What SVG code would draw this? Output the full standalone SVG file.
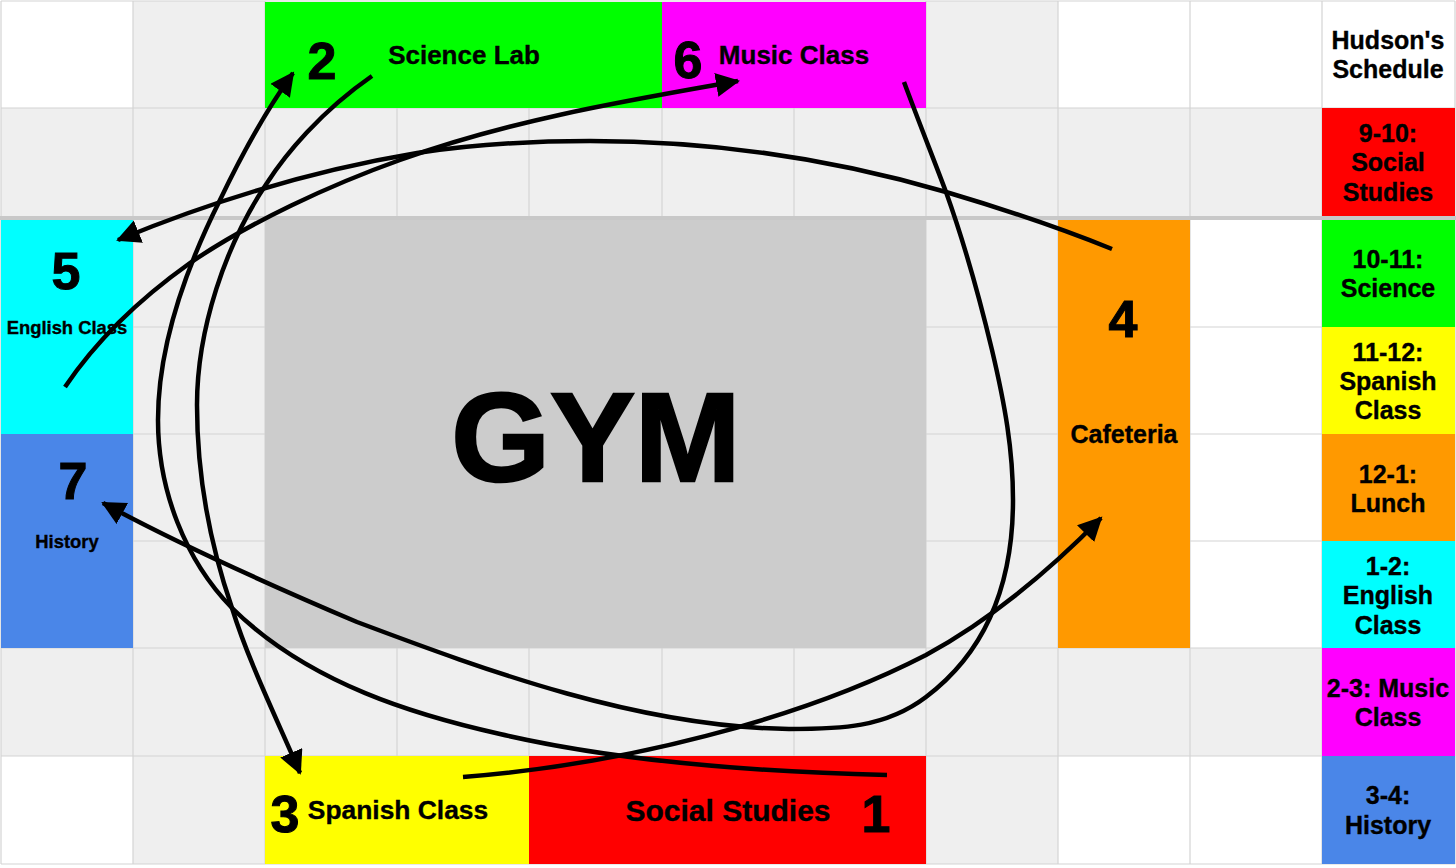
<svg xmlns="http://www.w3.org/2000/svg" width="1456" height="868" viewBox="0 0 1456 868">
<defs>
<marker id="arrow" markerUnits="userSpaceOnUse" markerWidth="30" markerHeight="30" refX="22" refY="12" orient="auto"><path d="M0 0L24 12L0 24Z" fill="#000"/></marker>
</defs>
<style>
text{font-family:"Liberation Sans",Arial,sans-serif;font-weight:700;fill:#000;text-anchor:middle;stroke:#000;stroke-width:.35}
.g{fill:#efefef}.l{stroke:#d4d4d4;stroke-width:1.2;fill:none}
.n{font-size:52px;stroke-width:1}.m{font-size:25px}.s{font-size:18.4px}
.c{fill:none;stroke:#000;stroke-width:4.5}
</style>
<rect width="1456" height="868" fill="#fff"/>
<g id="grid">
<rect class="g" x="133" y="1" width="132" height="863"/>
<rect class="g" x="926" y="1" width="132" height="863"/>
<rect class="g" x="1" y="108" width="1321" height="108"/>
<rect class="g" x="1" y="648" width="1321" height="108"/>
<path class="l" d="M1 1V864M133 1V864M265 1V864M397 108V216M529 108V216M662 108V216M794 108V216M397 648V756M529 648V756M662 648V756M794 648V756M926 1V864M1058 1V864M1190 1V864M1322 1V864M1455 1V864M1 1H1455M1 108H1455M1 327H1322M1 434H1322M1 541H1322M1 648H1322M1 756H1322M1 864H1455"/>
<rect x="0" y="216" width="1456" height="4" fill="#c8c8c8"/>
</g>
<g id="gym"><rect x="265" y="220" width="661" height="428" fill="#cccccc"/><text x="596" y="481" font-size="127" style="stroke-width:2.5">GYM</text></g>
<g id="science-lab"><rect x="265" y="2" width="397" height="106" fill="#00ff00"/><text class="n" x="322" y="79">2</text><text class="m" x="464" y="64" style="font-size:26px">Science Lab</text></g>
<g id="music-class"><rect x="662" y="2" width="264" height="106" fill="#ff00ff"/><text class="n" x="688" y="78">6</text><text class="m" x="794" y="64" style="font-size:26px">Music Class</text></g>
<g id="english-class"><rect x="1" y="220" width="132" height="214" fill="#00ffff"/><text class="n" x="66" y="289">5</text><text class="s" x="67" y="334">English Class</text></g>
<g id="history"><rect x="1" y="434" width="132" height="214" fill="#4a86e8"/><text class="n" x="73" y="499">7</text><text class="s" x="67" y="548">History</text></g>
<g id="cafeteria"><rect x="1058" y="220" width="132" height="428" fill="#ff9900"/><text class="n" x="1123" y="337">4</text><text x="1124" y="443" font-size="25">Cafeteria</text></g>
<g id="spanish-class"><rect x="265" y="756" width="264" height="108" fill="#ffff00"/><text class="n" x="285" y="832">3</text><text class="m" x="398" y="819" style="font-size:26.4px">Spanish Class</text></g>
<g id="social-studies"><rect x="529" y="756" width="397" height="108" fill="#ff0000"/><text class="n" x="876" y="832">1</text><text x="728" y="821" font-size="30">Social Studies</text></g>
<g id="schedule">
<g><text class="m" x="1388" y="49">Hudson's</text><text class="m" x="1388" y="78">Schedule</text></g>
<g><rect x="1322" y="108" width="133" height="108" fill="#ff0000"/><text class="m" x="1388" y="142">9-10:</text><text class="m" x="1388" y="171">Social</text><text class="m" x="1388" y="201">Studies</text></g>
<g><rect x="1322" y="220" width="133" height="107" fill="#00ff00"/><text class="m" x="1388" y="268">10-11:</text><text class="m" x="1388" y="297">Science</text></g>
<g><rect x="1322" y="327" width="133" height="107" fill="#ffff00"/><text class="m" x="1388" y="361">11-12:</text><text class="m" x="1388" y="390">Spanish</text><text class="m" x="1388" y="419">Class</text></g>
<g><rect x="1322" y="434" width="133" height="107" fill="#ff9900"/><text class="m" x="1388" y="483">12-1:</text><text class="m" x="1388" y="512">Lunch</text></g>
<g><rect x="1322" y="541" width="133" height="107" fill="#00ffff"/><text class="m" x="1388" y="575">1-2:</text><text class="m" x="1388" y="604">English</text><text class="m" x="1388" y="634">Class</text></g>
<g><rect x="1322" y="648" width="133" height="108" fill="#ff00ff"/><text class="m" x="1388" y="697">2-3: Music</text><text class="m" x="1388" y="726">Class</text></g>
<g><rect x="1322" y="756" width="133" height="108" fill="#4a86e8"/><text class="m" x="1388" y="804">3-4:</text><text class="m" x="1388" y="834">History</text></g>
</g>
<g id="connectors">
<path class="c" marker-end="url(#arrow)" d="M887 775C760 772 620 762 500 734C420 716 310 685 232 608C185 560 158 490 158 420C158 340 190 260 220 200C240 158 265 112 293 73"/>
<path class="c" marker-end="url(#arrow)" d="M372 76C320 112 285 155 267 183C225 245 197 330 197 405C197 480 212 550 232 608C248 660 275 715 300 773"/>
<path class="c" marker-end="url(#arrow)" d="M463 777C620 765 800 720 926 655C990 620 1050 570 1101 518"/>
<path class="c" marker-end="url(#arrow)" d="M1112 249C1060 228 1000 208 946 192C830 158 710 141 590 141C530 141 470 145 417 153C315 170 215 200 118 240"/>
<path class="c" marker-end="url(#arrow)" d="M65 387C100 335 145 295 190 263C250 222 330 185 400 160C510 120 630 100 738 81"/>
<path class="c" marker-end="url(#arrow)" d="M904 82C920 125 934 160 946 192C965 245 980 300 992 350C1005 405 1013 450 1013 500C1013 600 975 660 926 697C885 728 840 729 789 729C640 727 490 672 357 622C270 585 180 545 103 503"/>
</g>
</svg>
